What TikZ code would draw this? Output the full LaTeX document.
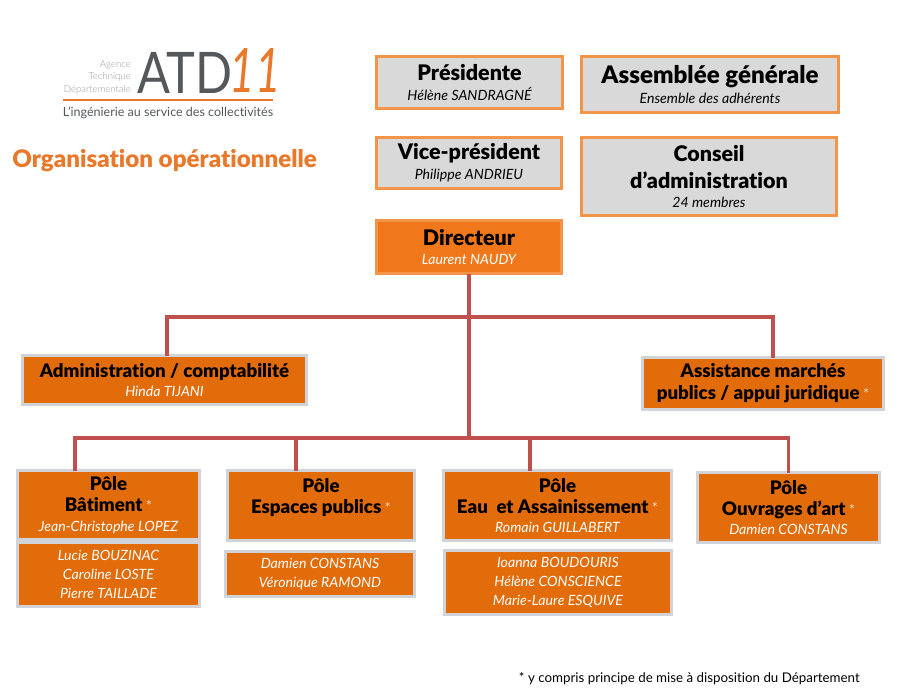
\documentclass[tikz,border=0pt]{standalone}
\usepackage{fontspec}
\setmainfont[Ligatures=NoCommon,BoldFont={Lato Black},BoldItalicFont={Lato Black Italic}]{Lato}
\newfontfamily\logolight{Lato Light}
\definecolor{bordo}{HTML}{F29548}
\definecolor{greyfill}{HTML}{D9D9D9}
\definecolor{dirfill}{HTML}{F0781A}
\definecolor{polefill}{HTML}{E36C0A}
\definecolor{lineborder}{HTML}{D0D4D8}
\definecolor{linkred}{HTML}{C0504D}
\definecolor{logogrey}{HTML}{55585A}
\definecolor{titleor}{HTML}{E9782A}
\definecolor{stargrey}{HTML}{F3D9C4}
\newcommand{\BX}[7]{%
  \pgfmathsetlengthmacro{\bw}{(#5-#3-3)*0.75pt}%
  \pgfmathsetlengthmacro{\bh}{(#6-#4-3)*0.75pt}%
  \node[#2,minimum width=\bw,minimum height=\bh] (#1) at ({(#3+#5)/2},{(#4+#6)/2}) {#7};}
\newcommand{\hd}[1]{{\fontsize{16.1pt}{17pt}\selectfont\bfseries #1}}
\newcommand{\hdb}[1]{{\fontsize{14pt}{16.5pt}\selectfont\bfseries\color{black} #1}}
\newcommand{\nm}[1]{{\fontsize{10.6pt}{14pt}\selectfont\itshape #1}}
\newcommand{\str}{{\color{stargrey}\fontsize{11pt}{12pt}\selectfont *}}
\tikzset{
  base/.style={rectangle,draw,line width=2.25pt,inner sep=0pt,outer sep=0pt,align=center},
  topbox/.style={base,draw=bordo,fill=greyfill,text=black},
  dirbox/.style={base,draw=bordo,fill=dirfill,text=white},
  polebox/.style={base,draw=lineborder,fill=polefill,text=white},
  link/.style={draw=linkred,line width=2.8pt}
}
\begin{document}
\begin{tikzpicture}[x=0.75pt,y=-0.75pt]
\useasboundingbox (0,0) rectangle (900,700);
\coordinate (upper) at (469,317);
\coordinate (lower) at (469,438);
\BX{dir}{dirbox}{375}{219}{563}{275}{\hd{\textcolor{black}{Directeur}}\\[2.5pt]\nm{Laurent NAUDY}}
\BX{adm}{polebox}{21}{354}{308}{406}{\hdb{Administration / comptabilité}\\[2.5pt]\nm{Hinda TIJANI}}
\BX{ass}{polebox}{641}{356}{885}{411}{\hdb{Assistance marchés}\\[4.5pt]\hdb{publics / appui juridique} \str}
\BX{bat}{polebox}{16}{469}{201}{541}{\hdb{Pôle}\\[4pt]\hdb{Bâtiment} \str\\[2.5pt]\nm{Jean-Christophe LOPEZ}}
\BX{batsub}{polebox}{16}{541}{201}{608}{\nm{Lucie BOUZINAC}\\[2pt]\nm{Caroline LOSTE}\\[2pt]\nm{Pierre TAILLADE}}
\BX{esp}{polebox}{226}{469}{416}{542}{\hdb{Pôle}\\[4pt]\hdb{Espaces publics} \str\\[2.5pt]}
\BX{espsub}{polebox}{224}{550}{416}{598}{\nm{Damien CONSTANS}\\[2pt]\nm{Véronique RAMOND}}
\BX{eau}{polebox}{442}{469}{673}{542}{\hdb{Pôle}\\[4pt]\hdb{Eau\ \ et Assainissement} \str\\[2.5pt]\nm{Romain GUILLABERT}}
\BX{eausub}{polebox}{443}{549}{673}{616}{\nm{Ioanna BOUDOURIS}\\[2pt]\nm{Hélène CONSCIENCE}\\[2pt]\nm{Marie-Laure ESQUIVE}}
\BX{ouv}{polebox}{696}{471}{881}{544}{\hdb{Pôle}\\[4pt]\hdb{Ouvrages d’art} \str\\[2.5pt]\nm{Damien CONSTANS}}
\BX{pres}{topbox}{375}{55}{564}{110}{\hd{Présidente}\\[2.5pt]\nm{Hélène SANDRAGNÉ}}
\BX{ag}{topbox}{580}{55}{840}{114}{{\fontsize{18.1pt}{19pt}\selectfont\bfseries Assemblée générale}\\[3.5pt]\nm{Ensemble des adhérents}}
\BX{vp}{topbox}{375}{136}{563}{190}{\hd{Vice-président}\\[3pt]\nm{Philippe ANDRIEU}}
\BX{ca}{topbox}{580}{136}{838}{217}{\hd{Conseil}\\[7pt]\hd{d’administration}\\[2.5pt]\nm{24 membres}}
\draw[link] (dir.south) -- (lower);
\draw[link] ([xshift=1.9pt]adm.north) |- (upper) -| ([xshift=7.5pt]ass.north);
\draw[link] ([xshift=-25pt]bat.north) |- (lower) -| (ouv.north);
\draw[link] ([xshift=-18.75pt]esp.north) -- ([xshift=-18.75pt]esp.north |- lower);
\draw[link] ([xshift=-20.6pt]eau.north) -- ([xshift=-20.6pt]eau.north |- lower);
% logo
\node[inner sep=0pt,text=logogrey,xscale=0.85,font=\fontsize{43pt}{43pt}\selectfont] (atd) at (185,73) {ATD};
\node[inner sep=0pt,text=titleor,xscale=0.72,font=\fontsize{46pt}{46pt}\selectfont\itshape] (eleven) at (255,70) {11};
\node[inner sep=0pt,anchor=east,align=right,text=black!40,font=\logolight\fontsize{7.2pt}{9.4pt}\selectfont] (agence) at (131,77) {Agence\\Technique\\Départementale};
\coordinate (ruleL) at (63,100);
\coordinate (ruleR) at (273,100);
\draw[titleor,line width=0.9pt] (ruleL) -- (ruleR);
\node[inner sep=0pt,text=logogrey,font=\fontsize{9.4pt}{11pt}\selectfont] (tag) at (168,113) {L’ingénierie au service des collectivités};
\node[inner sep=0pt,anchor=west,text=titleor,font=\fontsize{18.1pt}{20pt}\selectfont\bfseries] (title) at (12,161) {Organisation opérationnelle};
\node[inner sep=0pt,anchor=east,font=\fontsize{10pt}{12pt}\selectfont] (note) at (860,679) {* y compris principe de mise à disposition du Département};
\end{tikzpicture}
\end{document}
